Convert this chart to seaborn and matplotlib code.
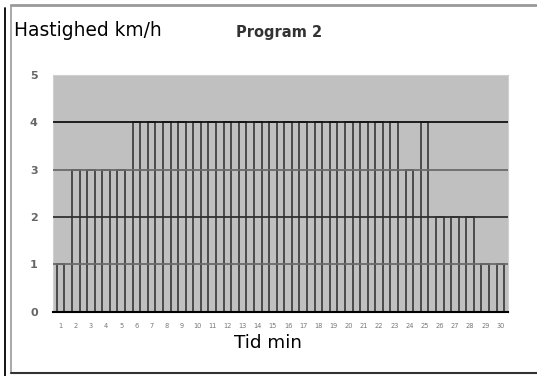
import matplotlib
matplotlib.use("Agg")
import matplotlib.pyplot as plt
from matplotlib.lines import Line2D
import seaborn as sns
import pandas as pd

minutes = [str(i) for i in range(1, 31)]
speeds = [1, 3, 3, 3, 3, 4, 4, 4, 4, 4, 4, 4, 4, 4, 4, 4, 4, 4, 4, 4, 4, 4, 4, 3, 4, 2, 2, 2, 1, 1]
y_ticks = [0, 1, 2, 3, 4, 5]
title = "Program 2"
ylabel = "Hastighed km/h"
xlabel = "Tid min"

sns.set_theme(style="white")
plt.rcParams['font.family'] = ['DejaVu Sans']

df = pd.DataFrame({"min": minutes, "speed": speeds})

W, H = 537, 376
fig = plt.figure(figsize=(W / 100, H / 100), dpi=100)
fig.patch.set_facecolor("white")
ax = fig.add_axes([53 / W, 1 - 311.5 / H, (508 - 53) / W, (311.5 - 75) / H])
ax.set_facecolor("#C0C0C0")

sns.barplot(data=df, x="min", y="speed", order=minutes, color="#C0C0C0",
            edgecolor="#4a4a4a", linewidth=1.4, width=0.5, saturation=1, ax=ax)

ax.set_ylim(0, 5)
ax.set_xlim(-0.5, 29.5)
ax.set_yticks(y_ticks)
ax.set_yticklabels([str(v) for v in y_ticks], fontsize=8, color="#666666", fontweight="bold")
ax.tick_params(axis="y", length=0, pad=11)
ax.tick_params(axis="x", length=0, pad=8, labelsize=4.8, labelcolor="#777777")
ax.set_xlabel("")
ax.set_ylabel("")
grid_colors = {1: "#6a6a6a", 2: "#303030", 3: "#6a6a6a", 4: "#111111"}
for yv, c in grid_colors.items():
    ax.axhline(yv, color=c, linewidth=1.3, zorder=5)
for s in ["left", "top", "right"]:
    ax.spines[s].set_visible(True)
    ax.spines[s].set_color("#d0d0d0")
    ax.spines[s].set_linewidth(0.8)
ax.spines["bottom"].set_color("black")
ax.spines["bottom"].set_linewidth(1.5)
ax.spines["bottom"].set_zorder(6)

fig.text(279.5 / W, 1 - 33 / H, title, ha="center", va="center", fontsize=10.5,
         fontweight="bold", color="#333333")
fig.text(14.5 / W, 1 - 31 / H, ylabel, ha="left", va="center", fontsize=13.4, color="black")
fig.text(268 / W, 1 - 343 / H, xlabel, ha="center", va="center", fontsize=13.2, color="black")

# outer frame lines
fig.add_artist(Line2D([5 / W, 5 / W], [0, 1 - 8 / H], color="black", lw=1.3, transform=fig.transFigure))
fig.add_artist(Line2D([11 / W, 11 / W], [1 - 373 / H, 1 - 5 / H], color="#999999", lw=1.2, transform=fig.transFigure))
fig.add_artist(Line2D([11 / W, 1], [1 - 5 / H, 1 - 5 / H], color="#999999", lw=2, transform=fig.transFigure))
fig.add_artist(Line2D([11 / W, 1], [1 - 372.5 / H, 1 - 372.5 / H], color="#333333", lw=1.5, transform=fig.transFigure))

fig.savefig("out.png", dpi=100, facecolor="white")
